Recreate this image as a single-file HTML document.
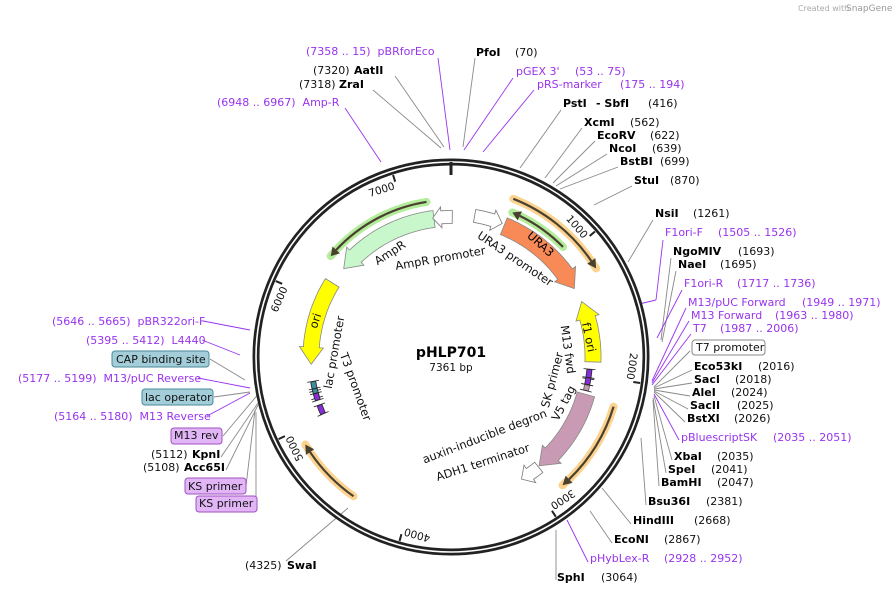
<!DOCTYPE html>
<html><head><meta charset="utf-8"><style>
html,body{margin:0;padding:0;background:#fff;width:895px;height:594px;overflow:hidden}
svg{display:block}
text{font-family:"DejaVu Sans","Liberation Sans",sans-serif;font-size:11px;fill:#111;white-space:pre}
.b{font-weight:bold;fill:#000}
.p{fill:#9933ee}
.i{font-size:11.5px}
</style></head><body>
<svg id="s" width="895" height="594" viewBox="0 0 895 594" xmlns="http://www.w3.org/2000/svg">
<text x="798" y="11" style="font-size:8px;fill:#aaa">Created with</text><text x="846" y="11" style="font-size:9px;fill:#999">SnapGene</text>
<g id="lead" stroke="#888" stroke-width="0.9" fill="none"></g>
<g id="ring"></g>
<g id="feat"></g>
<g id="tk"></g>
<text x="451" y="357" text-anchor="middle" class="b" style="font-size:14px">pHLP701</text>
<text x="451" y="371" text-anchor="middle" style="font-size:10.5px">7361 bp</text>
<text class="i" transform="translate(392,256) rotate(-33)" text-anchor="middle">AmpR</text>
<text class="i" transform="translate(441,262) rotate(-10)" text-anchor="middle">AmpR promoter</text>
<text class="i" transform="translate(513,262) rotate(34)" text-anchor="middle">URA3 promoter</text>
<text class="i" transform="translate(538,247) rotate(42)" text-anchor="middle" style="fill:#000">URA3</text>
<text class="i" transform="translate(585,338) rotate(78)" text-anchor="middle">f1 ori</text>
<text class="i" transform="translate(319,322) rotate(-72)" text-anchor="middle">ori</text>
<text class="i" transform="translate(564,350) rotate(82)" text-anchor="middle">M13 fwd</text>
<text class="i" transform="translate(556,381) rotate(-75)" text-anchor="middle">SK primer</text>
<text class="i" transform="translate(567,405) rotate(-62)" text-anchor="middle">V5 tag</text>
<text class="i" transform="translate(486,440) rotate(-21)" text-anchor="middle">auxin-inducible degron</text>
<text class="i" transform="translate(484,466) rotate(-18)" text-anchor="middle">ADH1 terminator</text>
<text class="i" transform="translate(338,353) rotate(-80)" text-anchor="middle">lac promoter</text>
<text class="i" transform="translate(352,388) rotate(70)" text-anchor="middle">T3 promoter</text>
<g id="lab"></g>
</svg>
<script>
var NS="http://www.w3.org/2000/svg",cx=451,cy=357;
function P(r,a){var t=a*Math.PI/180;return [cx+r*Math.sin(t),cy-r*Math.cos(t)];}
function el(par,tag,at,txt){var e=document.createElementNS(NS,tag);for(var k in at)e.setAttribute(k,at[k]);if(txt!=null)e.textContent=txt;document.getElementById(par).appendChild(e);return e;}
function arcD(r,a1,a2){var p1=P(r,a1),p2=P(r,a2);var la=Math.abs(a2-a1)>180?1:0,sw=a2>a1?1:0;return "M"+p1[0]+","+p1[1]+" A"+r+","+r+" 0 "+la+" "+sw+" "+p2[0]+","+p2[1];}
el("ring","circle",{cx:cx,cy:cy,r:195,fill:"none",stroke:"#222","stroke-width":7});
el("ring","circle",{cx:cx,cy:cy,r:195,fill:"none",stroke:"#fff","stroke-width":1.6});
el("ring","line",{x1:451,y1:162,x2:451,y2:175,stroke:"#222","stroke-width":3});
var L=7361;
for(var k=1;k<=7;k++){var a=k*1000/L*360;var p1=P(191,a),p2=P(184,a);
 el("tk","line",{x1:p1[0],y1:p1[1],x2:p2[0],y2:p2[1],stroke:"#222","stroke-width":2});
 var top=(a<80||a>270);var rot=top?a:a-180;var q=P(181,a);
 el("tk","text",{"text-anchor":top?"end":"start",transform:"translate("+q[0]+","+q[1]+") rotate("+rot+") translate("+(top?-2:2)+",4)",style:"font-size:10.5px"},String(k*1000));
}
function band(r,w,a1,a2,fill,stroke,hl){var d=a2>a1?1:-1;var hb=a2-d*hl;var pts=[];var n=40,i,a;
 for(i=0;i<=n;i++){a=a1+(hb-a1)*i/n;pts.push(P(r+w/2,a));}
 pts.push(P(r+w/2+4,hb));pts.push(P(r,a2));pts.push(P(r-w/2-4,hb));
 for(i=n;i>=0;i--){a=a1+(hb-a1)*i/n;pts.push(P(r-w/2,a));}
 el("feat","polygon",{points:pts.map(function(p){return p[0].toFixed(1)+","+p[1].toFixed(1)}).join(" "),fill:fill,stroke:stroke,"stroke-width":0.8});}
function line(r,a1,a2,glow){var d=a2>a1?1:-1;var hb=a2-d*3;
 el("feat","path",{d:arcD(r,a1,a2),fill:"none",stroke:glow,"stroke-width":8,"stroke-linecap":"round"});
 el("feat","path",{d:arcD(r,a1,hb),fill:"none",stroke:"#4a4030","stroke-width":2.2});
 var o=P(r+5,hb),t=P(r,a2),i=P(r-5,hb),m=P(r,hb);
 el("feat","polygon",{points:o+" "+t+" "+i+" "+m,fill:"#4a4030"});}
line(170,21.5,58.6,"#fbd38f");line(170,107,139,"#fbd38f");line(170,215,239,"#fbd38f");
line(157,351,310,"#b3ec9a");line(157,45.5,23,"#b3ec9a");
band(139,17,353,309.5,"#c8f7cc","#888",7);
band(140,13,0.5,-7.5,"#fff","#777",3.5);
band(143,13,9.5,21,"#fff","#777",4);
band(141,18,22,61,"#f78a56","#888",7);
band(142,16,92,67,"#ffff00","#888",7);
band(140,16,302,267,"#ffff00","#888",7);
band(140,18,105.5,141,"#c99ab3","#888",7);
band(141,13,141.5,150,"#fff","#777",4);
function small(r,a1,a2,fill,stroke){el("feat","path",{d:arcD(r,a1,a2),fill:"none",stroke:stroke,"stroke-width":6});el("feat","path",{d:arcD(r,a1+0.3,a2-0.3),fill:"none",stroke:fill,"stroke-width":4});
 var p=P(r-6,a1),q=P(r+6,a1);el("feat","line",{x1:p[0],y1:p[1],x2:q[0],y2:q[1],stroke:"#222","stroke-width":0.8});p=P(r-6,a2);q=P(r+6,a2);el("feat","line",{x1:p[0],y1:p[1],x2:q[0],y2:q[1],stroke:"#222","stroke-width":0.8});}
small(139,95,99,"#8a2be2","#333");small(139,98.5,101.5,"#8a2be2","#333");small(139,101.5,104,"#c99ab3","#666");
small(140,256,260,"#3a8fa0","#333");small(140,253,257,"#3a8fa0","#333");small(140,252,255,"#8a2be2","#333");small(140,246,250,"#8a2be2","#333");
var G="#888",Pu="#9933ee";
var Ls=[
[438,58,450,150,Pu],[475,58,463,147,G],[395,76,444,147,G],[373,90,441,148,G],[345,108,381,162,Pu],
[513,78,464,150,Pu],[534,90,483,152,Pu],[561,110,520,168,G],[582,128,545,178,G],[595,141,553,183,G],[607,154,556,186,G],[618,167,560,189,G],[632,186,594,205,G],
[653,220,628,262,G],[663,240,656,300,Pu],[656,300,635,305,Pu],[671,258,661,340,G],[676,271,662,342,G],[682,290,657,338,Pu],
[686,308,652,381,Pu],[689,321,652,383,Pu],[691,334,652,385,Pu],[690,351,654,387,G],[692,370,654,388,G],[692,383,654,389,G],[690,396,654,390,G],[688,409,654,391,G],[685,422,654,392,G],
[679,440,654,394,Pu],[672,460,654,396,G],[666,473,653,398,G],[659,486,653,400,G],[646,505,641,438,G],[631,524,602,488,G],[612,543,590,511,G],
[588,562,567,520,Pu],[556,580,556,530,G],[286,561,348,508,G],
[203,321,250,330,Pu],[202,340,240,355,Pu],[210,359,245,380,G],[198,378,250,388,Pu],[214,397,250,392,G],[207,416,250,393,Pu],
[223,436,260,392,G],[221,457,258,403,G],[226,470,258,405,G],[246,486,255,410,G],[256,504,256,412,G]];
Ls.forEach(function(l){el("lead","line",{x1:l[0],y1:l[1],x2:l[2],y2:l[3],stroke:l[4],"stroke-width":0.9});});
var T=[
[306,55,"(7358 .. 15)  pBRforEco","p"],[476,56,"PfoI","b"],[515,56,"(70)",""],
[313,74,"(7320)",""],[354,74,"AatII","b"],[299,88,"(7318)",""],[339,88,"ZraI","b"],
[217,106,"(6948 .. 6967)  Amp-R","p"],
[516,75,"pGEX 3'","p"],[575,75,"(53 .. 75)","p"],[537,88,"pRS-marker","p"],[620,88,"(175 .. 194)","p"],
[563,107,"PstI","b"],[596,107,"- SbfI","b"],[648,107,"(416)",""],
[584,126,"XcmI","b"],[630,126,"(562)",""],[597,139,"EcoRV","b"],[650,139,"(622)",""],
[609,152,"NcoI","b"],[652,152,"(639)",""],[620,165,"BstBI","b"],[660,165,"(699)",""],
[634,184,"StuI","b"],[670,184,"(870)",""],[655,217,"NsiI","b"],[693,217,"(1261)",""],
[665,236,"F1ori-F","p"],[718,236,"(1505 .. 1526)","p"],
[673,255,"NgoMIV","b"],[738,255,"(1693)",""],[678,268,"NaeI","b"],[720,268,"(1695)",""],
[684,287,"F1ori-R","p"],[737,287,"(1717 .. 1736)","p"],
[688,306,"M13/pUC Forward","p"],[802,306,"(1949 .. 1971)","p"],
[691,319,"M13 Forward","p"],[775,319,"(1963 .. 1980)","p"],
[693,332,"T7","p"],[720,332,"(1987 .. 2006)","p"],
[696,351,"T7 promoter",""],
[694,370,"Eco53kI","b"],[758,370,"(2016)",""],[694,383,"SacI","b"],[735,383,"(2018)",""],
[692,396,"AleI","b"],[731,396,"(2024)",""],[690,409,"SacII","b"],[737,409,"(2025)",""],
[687,422,"BstXI","b"],[734,422,"(2026)",""],
[681,441,"pBluescriptSK","p"],[773,441,"(2035 .. 2051)","p"],
[674,460,"XbaI","b"],[717,460,"(2035)",""],[668,473,"SpeI","b"],[711,473,"(2041)",""],
[661,486,"BamHI","b"],[717,486,"(2047)",""],[648,505,"Bsu36I","b"],[706,505,"(2381)",""],
[633,524,"HindIII","b"],[694,524,"(2668)",""],[614,543,"EcoNI","b"],[664,543,"(2867)",""],
[590,562,"pHybLex-R","p"],[664,562,"(2928 .. 2952)","p"],[557,581,"SphI","b"],[601,581,"(3064)",""],
[245,569,"(4325)",""],[287,569,"SwaI","b"],
[52,325,"(5646 .. 5665)  pBR322ori-F","p"],[86,344,"(5395 .. 5412)  L4440","p"],
[116,363,"CAP binding site",""],[18,382,"(5177 .. 5199)  M13/pUC Reverse","p"],
[145,401,"lac operator",""],[54,420,"(5164 .. 5180)  M13 Reverse","p"],
[174,439,"M13 rev",""],[151,458,"(5112)",""],[192,458,"KpnI","b"],[143,471,"(5108)",""],[184,471,"Acc65I","b"],
[188,490,"KS primer",""],[199,507,"KS primer",""]];
[[692,340,73,15,"#fff","#888"],[112,351,97,16,"#a3cdd8","#4a8a9a"],[142,389,71,16,"#a3cdd8","#4a8a9a"],[171,428,51,16,"#e2b6f6","#a050c0"],[185,478,61,16,"#e2b6f6","#a050c0"],[196,496,61,16,"#e2b6f6","#a050c0"]].forEach(function(b){
 el("lab","rect",{x:b[0],y:b[1],width:b[2],height:b[3],rx:3,fill:b[4],stroke:b[5],"stroke-width":1});});
T.forEach(function(t){var a={x:t[0],y:t[1]};if(t[3])a["class"]=t[3];el("lab","text",a,t[2]);});
</script>
</body></html>
